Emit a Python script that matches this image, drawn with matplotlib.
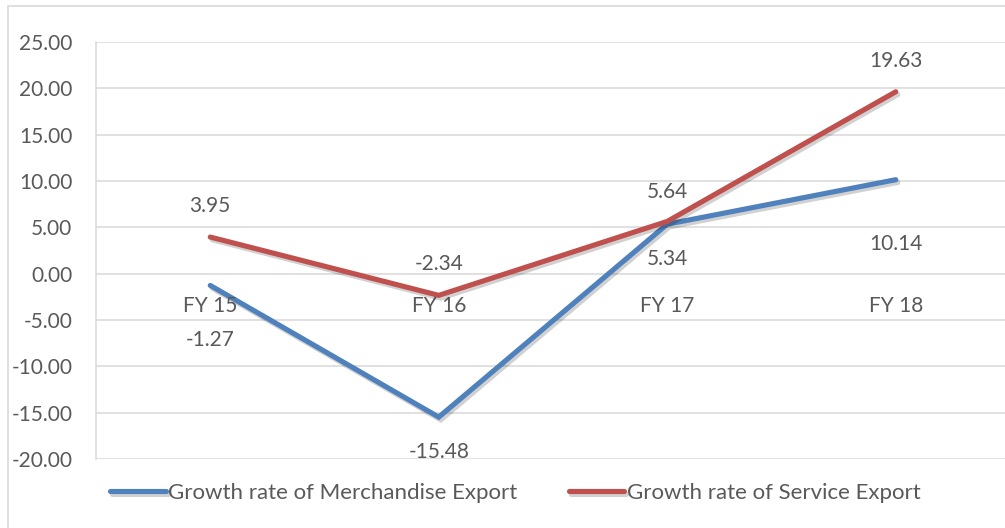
import matplotlib
matplotlib.use("Agg")
import matplotlib.pyplot as plt
import matplotlib.patheffects as pe
from matplotlib.patches import Rectangle

plt.rcParams["font.family"] = ["Lato", "DejaVu Sans"]

years = ["FY 15", "FY 16", "FY 17", "FY 18"]
merch = [-1.27, -15.48, 5.34, 10.14]
service = [3.95, -2.34, 5.64, 19.63]
yticks = [-20, -15, -10, -5, 0, 5, 10, 15, 20, 25]

BLUE = "#4F81BD"
RED = "#C0504D"
GRID = "#D9D9D9"
TXT = "#595959"
FS = 15

W, H = 1005, 528
fig = plt.figure(figsize=(W / 100, H / 100), dpi=100)
# plot area in pixels: x 96..1010 (cropped on right), y 42..459
ax = fig.add_axes([96 / W, (H - 459) / H, 914 / W, 417 / H])

x = list(range(len(years)))
shadow = [pe.SimpleLineShadow(offset=(1.5, -2), alpha=0.18, shadow_color="k"), pe.Normal()]
ax.plot(x, merch, color=BLUE, lw=3.7, solid_capstyle="round", solid_joinstyle="miter",
        label="Growth rate of Merchandise Export", path_effects=shadow, zorder=3)
ax.plot(x, service, color=RED, lw=3.7, solid_capstyle="round", solid_joinstyle="miter",
        label="Growth rate of Service Export", path_effects=shadow, zorder=4)

ax.set_xlim(-0.5, 3.5)
ax.set_ylim(-20, 25)
ax.set_yticks(yticks)
ax.set_yticklabels([f"{v:.2f}" for v in yticks])
ax.tick_params(axis="y", length=0, pad=17, labelsize=FS, labelcolor=TXT)
ax.set_xticks([])
ax.grid(axis="y", color=GRID, lw=1.1)
ax.set_axisbelow(True)
for s in ["top", "right", "bottom"]:
    ax.spines[s].set_visible(False)
ax.spines["left"].set_color(GRID)
ax.spines["left"].set_linewidth(1.1)

# category labels sit just below the zero line
for i, lab in enumerate(years):
    ax.annotate(lab, (i, 0), xytext=(0, -32), textcoords="offset pixels",
                ha="center", va="center", fontsize=FS, color=TXT)

# data labels
merch_off = [-55, -35, -35, -64]
serv_off = [31, 31, 29, 31]
for i in x:
    ax.annotate(f"{merch[i]:.2f}", (i, merch[i]), xytext=(0, merch_off[i]),
                textcoords="offset pixels", ha="center", va="center",
                fontsize=FS, color=TXT)
    ax.annotate(f"{service[i]:.2f}", (i, service[i]), xytext=(0, serv_off[i]),
                textcoords="offset pixels", ha="center", va="center",
                fontsize=FS, color=TXT)

fig.legend(loc="center left", bbox_to_anchor=(110 / W, 1 - 493 / H), ncol=2,
           frameon=False, fontsize=16, labelcolor=TXT, handlelength=2.5,
           handletextpad=0.12, columnspacing=2.3, borderpad=0, borderaxespad=0)

# outer chart border (cropped on right and bottom)
fig.patches.append(Rectangle((7.5 / W, -0.1), 1.2, (H - 6) / H + 0.1,
                             transform=fig.transFigure, fill=False,
                             edgecolor=GRID, lw=1.2))

fig.savefig("out.png", dpi=100)
